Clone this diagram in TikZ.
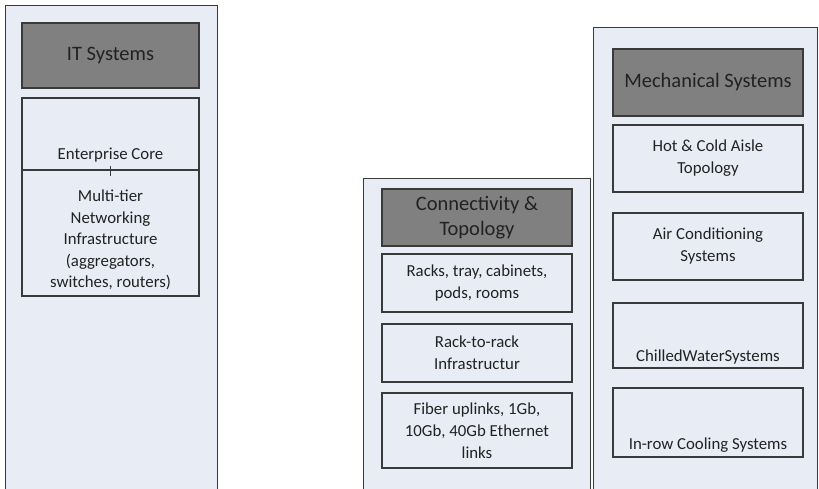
\documentclass[tikz,border=0pt]{standalone}
\usepackage{fontspec}
\setmainfont{Carlito}
\definecolor{panelfill}{HTML}{E8ECF4}
\definecolor{headfill}{HTML}{808080}
\definecolor{edge}{HTML}{3A3A3A}
\definecolor{ink}{HTML}{222222}
\begin{document}
\begin{tikzpicture}[x=1pt,y=-1pt,
  panel/.style={draw=edge,line width=0.9pt,fill=panelfill,rectangle,inner sep=0pt},
  head/.style={draw=edge,line width=1.1pt,fill=headfill,rectangle,inner sep=0pt,text=ink,align=center,font=\fontsize{20.5}{25}\selectfont},
  box/.style={draw=edge,line width=1.1pt,fill=panelfill,rectangle,inner sep=0pt,text=ink,align=center,font=\fontsize{16.8}{22}\selectfont},
  txt/.style={inner sep=0pt,text=ink,align=center,font=\fontsize{16.8}{21.5}\selectfont}]
\useasboundingbox (0,0) rectangle (819,488);
\begin{scope}
\clip (0,0) rectangle (819,488);
% panels
\node[panel,minimum width=212pt,minimum height=500pt,anchor=north west] (pit) at (5,5) {};
\node[panel,minimum width=227pt,minimum height=320pt,anchor=north west] (pcon) at (363,178) {};
\node[panel,minimum width=224pt,minimum height=470pt,anchor=north west] (pmech) at (593,27) {};
\end{scope}
% IT systems
\node[head,minimum width=177pt,minimum height=65pt] (it) at (110.5,55.5) {IT Systems};
\node[box,minimum width=177pt,minimum height=72pt] (ec) at (110.5,134) {};
\node[txt] (ecT) at (110.5,155) {Enterprise Core};
\node[box,minimum width=177pt,minimum height=126pt] (mt) at (110.5,233) {};
\node[txt] (mtT) at (110.5,240) {Multi-tier\\Networking\\Infrastructure\\(aggregators,\\switches, routers)};
\coordinate (tickTop) at (110.5,166);
\coordinate (tickBot) at (110.5,176);
\draw[edge,line width=1.1pt] (tickTop) -- (tickBot);
% Connectivity
\node[head,minimum width=190pt,minimum height=57pt] (con) at (477,217.5) {Connectivity \&\\Topology};
\node[box,minimum width=190pt,minimum height=58pt] (rk) at (477,283) {Racks, tray, cabinets,\\pods, rooms};
\node[box,minimum width=190pt,minimum height=58pt] (rr) at (477,353) {Rack-to-rack\\Infrastructur};
\node[box,minimum width=190pt,minimum height=75pt] (fb) at (477,430.5) {Fiber uplinks, 1Gb,\\10Gb, 40Gb Ethernet\\links};
% Mechanical
\node[head,minimum width=190pt,minimum height=67pt] (mech) at (708,82.5) {Mechanical Systems};
\node[box,minimum width=190pt,minimum height=67pt] (hc) at (708,158.5) {Hot \& Cold Aisle\\Topology};
\node[box,minimum width=190pt,minimum height=67pt] (ac) at (708,246.5) {Air Conditioning\\Systems};
\node[box,minimum width=190pt,minimum height=65pt] (cw) at (708,335.5) {};
\node[txt] (cwT) at (708,357) {ChilledWaterSystems};
\node[box,minimum width=190pt,minimum height=69pt] (ir) at (708,422.5) {};
\node[txt] (irT) at (708,445) {In-row Cooling Systems};
\end{tikzpicture}
\end{document}
